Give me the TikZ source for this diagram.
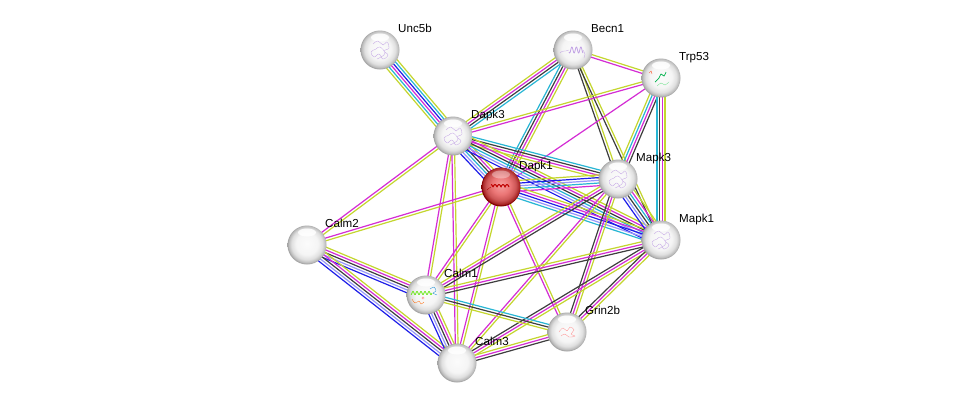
\documentclass[tikz,border=0pt]{standalone}
\usepackage{fontspec}
\setmainfont{Liberation Sans}
\usetikzlibrary{calc,backgrounds}
\definecolor{cy}{RGB}{40,182,212}
\definecolor{mg}{RGB}{212,44,212}
\definecolor{yg}{RGB}{196,214,46}
\definecolor{bk}{RGB}{62,62,62}
\definecolor{bl}{RGB}{30,30,232}
\definecolor{lv}{RGB}{150,150,250}
\definecolor{pscrib}{RGB}{192,160,228}
\pgfdeclareradialshading{protball}{\pgfpoint{0bp}{2bp}}{color(0bp)=(gray!3); color(14bp)=(gray!8); color(20bp)=(gray!25); color(23.5bp)=(gray!52); color(25bp)=(gray!72); color(50bp)=(gray!72)}
\pgfdeclareradialshading{redball}{\pgfpoint{0bp}{3bp}}{color(0bp)=(red!35!white!97!black); color(12bp)=(red!50!white!92!black); color(19bp)=(red!58!white!80!black); color(23.5bp)=(red!60!black!85!white); color(25bp)=(red!50!black); color(50bp)=(red!50!black)}
\tikzset{
  prot/.style={circle,minimum size=39pt,inner sep=0pt,shade,shading=protball},
  redprot/.style={circle,minimum size=39pt,inner sep=0pt,shade,shading=redball},
  lab/.style={anchor=base west,inner sep=0pt,font=\fontsize{11.6}{13}\selectfont},
  ln/.style={line width=1.2pt},
  scr/.style={line width=0.3pt},
}
\newcommand\edg[4]{%
  \foreach \c [count=\i] in {#4}{%
    \pgfmathsetmacro\off{(\i-(#3+1)/2)*2.7}%
    \draw[ln,\c] ($(#1.center)!\off pt!90:(#2.center)$) -- ($(#2.center)!\off pt!-90:(#1.center)$);
  }}
\newcommand\hilite[2]{\fill[white,opacity=#2] ($(#1.center)+(0,-12.5)$) ellipse (9pt and 4pt);}
\newcommand\tangle[2]{\draw[scr,#2,shift={(#1.center)}] plot[smooth,tension=0.7] coordinates{(-7,-6) (-2,-9) (3,-5) (7,-8) (9,-2) (4,1) (8,5) (3,9) (-1,4) (-6,7) (-9,2) (-4,-1) (0,-3) (5,3) (1,7) (-3,9)};}
\begin{document}
\begin{tikzpicture}[x=1pt,y=-1pt]
\useasboundingbox (0,0) rectangle (976,408);
% nodes
\node[prot] (Unc5b) at (380,50) {};
\node[prot] (Becn1) at (573,50) {};
\node[prot] (Trp53) at (661,78) {};
\node[prot] (Dapk3) at (453,136) {};
\node[redprot] (Dapk1) at (501,187) {};
\node[prot] (Mapk3) at (618,179) {};
\node[prot] (Mapk1) at (661,240) {};
\node[prot] (Calm2) at (307,245) {};
\node[prot] (Calm1) at (426,295) {};
\node[prot] (Grin2b) at (567,332) {};
\node[prot] (Calm3) at (457,363) {};
% highlights
\foreach \n in {Unc5b,Becn1,Trp53,Dapk3,Mapk3,Mapk1,Calm2,Calm1,Grin2b,Calm3}{\hilite{\n}{0.85}}
\hilite{Dapk1}{0.35}
% structure scribbles
\tangle{Unc5b}{pscrib}
\tangle{Dapk3}{pscrib}
\tangle{Mapk3}{pscrib}
\tangle{Mapk1}{pscrib}
\draw[pscrib,line width=0.8pt,shift={(Becn1.center)}] plot[domain=-4:10,samples=50] (\x,{3*sin(\x*80)});
\draw[scr,pscrib,shift={(Becn1.center)}] (-4,0) .. controls (-8,2) and (-11,0) .. (-13,3);
\draw[scr,pscrib,shift={(Becn1.center)}] (10,0) .. controls (12,3) and (13,6) .. (11,8);
\draw[red!75!black,line width=1pt,shift={(Dapk1.center)}] plot[domain=-10:8,samples=60] (\x,{-2.5*abs(sin(\x*45))});
\draw[scr,red!65!black,shift={(Dapk1.center)}] (-10,0) .. controls (-12,2) and (-13,1) .. (-14,3);
\draw[teal!60!green,line width=0.7pt,shift={(Trp53.center)}] plot[smooth] coordinates{(-6,4) (-2,0) (0,-4) (3,-2) (5,-6)};
\draw[scr,red!60!orange,shift={(Trp53.center)}] (-12,-5) -- (-10,-7) -- (-9,-4);
\draw[scr,teal!40!green!60!white,shift={(Trp53.center)}] plot[smooth] coordinates{(-4,8) (0,5) (4,7) (8,4)};
\draw[green!60!yellow!90!black,line width=0.7pt,shift={(Calm1.center)}] plot[domain=-15:6,samples=70] (\x,{-2+1.6*sin(\x*90)});
\draw[scr,cyan!70!blue,shift={(Calm1.center)}] plot[smooth] coordinates{(4,-6) (8,-8) (10,-4) (7,-2) (11,0)};
\draw[scr,orange!80!red,shift={(Calm1.center)}] plot[smooth] coordinates{(-14,4) (-11,8) (-7,6) (-5,9) (-2,7)};
\draw[scr,red!50!white,shift={(Calm1.center)}] (-3,3) circle (1.2pt);
\draw[scr,red!45!white,shift={(Grin2b.center)}] plot[smooth,tension=0.7] coordinates{(-8,0) (-4,-4) (0,-1) (3,-5) (7,-2) (4,2) (8,4) (2,5) (-2,2) (-6,4)};
% labels
\foreach \n/\t in {Unc5b/Unc5b,Becn1/Becn1,Trp53/Trp53,Dapk3/Dapk3,Dapk1/Dapk1,Mapk3/Mapk3,Mapk1/Mapk1,Calm2/Calm2,Calm1/Calm1,Grin2b/Grin2b,Calm3/Calm3}{
  \node[lab] (\n L) at ($(\n.center)+(18,-18)$) {\t};
}
% edges
\begin{scope}[on background layer]
\fill[white] (0,0) rectangle (976,408);
\edg{Unc5b}{Dapk3}{6}{yg,cy,mg,bl,cy,yg}
\edg{Becn1}{Dapk3}{4}{yg,mg,bk,cy}
\edg{Becn1}{Dapk1}{4}{cy,bk,mg,yg}
\edg{Becn1}{Trp53}{2}{mg,yg}
\edg{Becn1}{Mapk3}{2}{bk,yg}
\edg{Becn1}{Mapk1}{2}{bk,yg}
\edg{Trp53}{Dapk3}{2}{yg,mg}
\edg{Trp53}{Dapk1}{1}{mg}
\edg{Trp53}{Mapk3}{4}{yg,cy,mg,bk}
\edg{Trp53}{Mapk1}{4}{cy,bk,mg,yg}
\edg{Dapk3}{Dapk1}{6}{bl,lv,cy,bk,mg,yg}
\edg{Dapk3}{Mapk3}{4}{yg,mg,bk,cy}
\edg{Dapk3}{Mapk1}{6}{bl,lv,cy,bk,mg,yg}
\edg{Dapk3}{Calm2}{2}{mg,yg}
\edg{Dapk3}{Calm1}{2}{mg,yg}
\edg{Dapk3}{Calm3}{2}{mg,yg}
\edg{Dapk1}{Mapk3}{5}{mg,cy,lv,bl,yg}
\edg{Dapk1}{Mapk1}{5}{cy,lv,bl,mg,yg}
\edg{Dapk1}{Calm2}{2}{mg,yg}
\edg{Dapk1}{Calm1}{2}{mg,yg}
\edg{Dapk1}{Calm3}{2}{mg,yg}
\edg{Dapk1}{Grin2b}{2}{mg,yg}
\edg{Mapk3}{Mapk1}{6}{bl,lv,bk,cy,mg,yg}
\edg{Mapk3}{Calm1}{3}{yg,mg,bk}
\edg{Mapk3}{Calm3}{2}{mg,yg}
\edg{Mapk3}{Grin2b}{3}{bk,mg,yg}
\edg{Mapk1}{Calm1}{3}{yg,mg,bk}
\edg{Mapk1}{Calm3}{3}{bk,mg,yg}
\edg{Mapk1}{Grin2b}{3}{bk,mg,yg}
\edg{Calm2}{Calm1}{5}{bl,lv,bk,mg,yg}
\edg{Calm2}{Calm3}{5}{bl,lv,bk,mg,yg}
\edg{Calm1}{Calm3}{5}{bl,lv,bk,mg,yg}
\edg{Calm1}{Grin2b}{3}{yg,bk,cy}
\edg{Calm3}{Grin2b}{3}{bk,mg,yg}
\end{scope}
\end{tikzpicture}
\end{document}
